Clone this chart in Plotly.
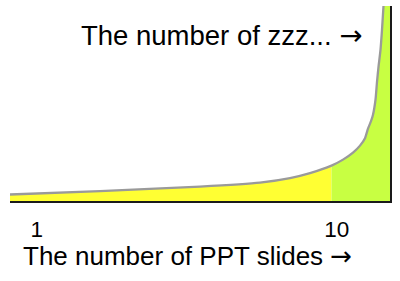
import plotly.graph_objects as go

# Data (x: number of PPT slides, y: number of zzz...)
slides = [0.2, 2.9, 5.9, 7.7, 8.6, 9.2, 9.845, 10.19, 10.49, 10.7, 10.85, 10.94,
          11.03, 11.09, 11.165, 11.21, 11.255, 11.315, 11.36, 11.405]
zzz = [6.5, 10, 14.5, 18.5, 23, 28, 35.5, 41.5, 48.5, 55.5, 63, 72.5,
       80, 86.5, 101.5, 119.5, 134.5, 151.5, 171.5, 195.5]
split_x = 9.845          # yellow / green boundary
tick_vals = [1, 10]
tick_text = ["1", "10"]
x_range = [0.2, 11.6]
y_range = [0, 195.5]

FONT = "Liberation Sans, Arial, sans-serif"
ARROW = '<span style="font-family:DejaVu Sans">\u2192</span>'

# polygons built from the data
yel_x = [x for x in slides if x <= split_x]
yel_y = [y for x, y in zip(slides, zzz) if x <= split_x]
yel_px = yel_x + [split_x, yel_x[0]]
yel_py = yel_y + [0, 0]

grn_x = [x for x in slides if x >= split_x]
grn_y = [y for x, y in zip(slides, zzz) if x >= split_x]
grn_px = grn_x + [x_range[1], x_range[1], split_x]
grn_py = grn_y + [y_range[1], 0, 0]

fig = go.Figure()
fig.add_trace(go.Scatter(x=yel_px, y=yel_py, fill="toself", fillcolor="#FFFF33",
                         mode="none", hoverinfo="skip"))
fig.add_trace(go.Scatter(x=grn_px, y=grn_py, fill="toself", fillcolor="#C8FF42",
                         mode="none", hoverinfo="skip"))
fig.add_trace(go.Scatter(x=slides, y=zzz, mode="lines",
                         line=dict(color="#9A9A9A", width=2.3, shape="spline",
                                   smoothing=0.5)))

fig.update_layout(
    width=400, height=281,
    margin=dict(l=10, r=10, t=6, b=80),
    paper_bgcolor="white", plot_bgcolor="white",
    showlegend=False,
    font=dict(family=FONT, color="black"),
    xaxis=dict(range=x_range, showgrid=False, zeroline=False,
               showline=True, linecolor="#1a1a1a", linewidth=2,
               tickvals=tick_vals, ticktext=tick_text, ticks="",
               tickfont=dict(size=22.5, family=FONT, color="black"),
               ticklabelstandoff=7),
    yaxis=dict(range=y_range, showgrid=False, zeroline=False,
               side="right", showline=True, linecolor="#1a1a1a", linewidth=1.5,
               showticklabels=False, ticks=""),
    annotations=[
        dict(text="The number of zzz... " + ARROW, xref="paper", yref="paper",
             x=(79 - 10) / 380, y=(201 - 34.5) / 195, xanchor="left",
             yanchor="middle", showarrow=False,
             font=dict(size=27.5, family=FONT, color="black")),
        dict(text="The number of PPT slides " + ARROW, xref="paper", yref="paper",
             x=(21 - 10) / 380, y=(201 - 256) / 195, xanchor="left",
             yanchor="middle", showarrow=False,
             font=dict(size=26, family=FONT, color="black")),
    ],
)

fig.write_html("out.html")
